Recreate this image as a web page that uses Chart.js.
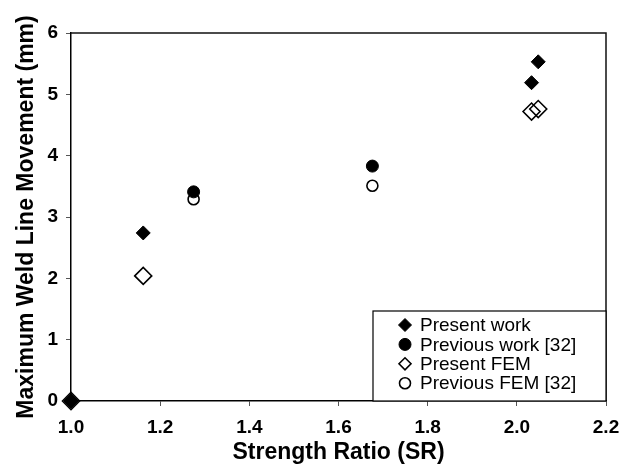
<!DOCTYPE html>
<html>
<head>
  <title>Weld Line Movement</title>
  <script src="https://cdn.jsdelivr.net/npm/chart.js"></script>
  <style>html, body { margin: 0; padding: 0; background: #fff; }</style>
</head>
<body>
  <canvas id="wlChart" width="620" height="470"></canvas>

  <script>
    // values
    const presentWorkSR  = [1.0, 1.162, 2.033, 2.048];
    const presentWorkMov = [0, 2.74, 5.19, 5.53];
    const prevWorkSR     = [1.275, 1.676];
    const prevWorkMov    = [3.41, 3.83];
    const presentFemSR   = [1.0, 1.162, 2.033, 2.048];
    const presentFemMov  = [0, 2.04, 4.72, 4.76];
    const prevFemSR      = [1.275, 1.676];
    const prevFemMov     = [3.29, 3.51];

    const seriesNames = ['Present work', 'Previous work [32]', 'Present FEM', 'Previous FEM [32]'];
    const xTicks = [1.0, 1.2, 1.4, 1.6, 1.8, 2.0, 2.2];
    const yTicks = [0, 1, 2, 3, 4, 5, 6];

    const FONT = "'Liberation Sans', Arial, sans-serif";

    function pts(xs, ys) { return xs.map((x, i) => ({ x: x, y: ys[i] })); }

    // box around plot + legend in lower right corner
    const framePlugin = {
      id: 'frame',
      afterDatasetsDraw(chart) {
        const { ctx, chartArea: a } = chart;
        ctx.save();
        ctx.strokeStyle = '#111';
        ctx.lineWidth = 1.5;
        ctx.beginPath();
        ctx.moveTo(a.left, a.top);
        ctx.lineTo(a.right, a.top);
        ctx.lineTo(a.right, a.bottom);
        ctx.stroke();

        // legend
        const lx = 373, ly = 311, lw = a.right - lx, lh = a.bottom - ly;
        ctx.fillStyle = '#fff';
        ctx.fillRect(lx, ly, lw, lh);
        ctx.lineWidth = 1.2;
        ctx.strokeStyle = '#000';
        ctx.strokeRect(lx, ly, lw, lh);
        ctx.font = '19px ' + FONT;
        ctx.textBaseline = 'middle';
        ctx.textAlign = 'left';
        chart.data.datasets.forEach((ds, i) => {
          const y = 325 + i * 19.4;
          ctx.fillStyle = ds.backgroundColor === 'transparent' ? 'rgba(0,0,0,0)' : ds.backgroundColor;
          ctx.strokeStyle = '#000';
          ctx.lineWidth = ds.borderWidth;
          Chart.helpers.drawPoint(ctx, {
            pointStyle: ds.pointStyle,
            radius: ds.legendRadius,
            rotation: 0,
            borderWidth: ds.borderWidth
          }, 405, y);
          ctx.fillStyle = '#000';
          ctx.fillText(ds.label, 420, y + 1);
        });
        ctx.restore();
      }
    };

    new Chart(document.getElementById('wlChart'), {
      type: 'scatter',
      data: {
        datasets: [
          { label: seriesNames[0], data: pts(presentWorkSR, presentWorkMov), pointStyle: 'rectRot',
            pointRadius: 7, backgroundColor: '#000', borderColor: '#000', borderWidth: 1, legendRadius: 6.5, clip: false },
          { label: seriesNames[1], data: pts(prevWorkSR, prevWorkMov), pointStyle: 'circle',
            pointRadius: 6, backgroundColor: '#000', borderColor: '#000', borderWidth: 1, legendRadius: 6, clip: false },
          { label: seriesNames[2], data: pts(presentFemSR, presentFemMov), pointStyle: 'rectRot',
            pointRadius: 8.5, backgroundColor: 'transparent', borderColor: '#000', borderWidth: 1.6, legendRadius: 6, clip: false },
          { label: seriesNames[3], data: pts(prevFemSR, prevFemMov), pointStyle: 'circle',
            pointRadius: 5.5, backgroundColor: 'transparent', borderColor: '#000', borderWidth: 1.6, legendRadius: 5.5, clip: false }
        ]
      },
      options: {
        responsive: false,
        animation: false,
        events: [],
        layout: { padding: { top: 33, right: 14, left: 0, bottom: 0 } },
        plugins: { legend: { display: false }, tooltip: { enabled: false } },
        scales: {
          x: {
            type: 'linear', min: 1.0, max: 2.2,
            afterBuildTicks: s => { s.ticks = xTicks.map(v => ({ value: v })); },
            afterFit: s => { s.height = 69; s.paddingLeft = 0; s.paddingRight = 0; },
            border: { display: true, color: '#000', width: 1.5 },
            grid: { drawOnChartArea: false, drawTicks: true, tickLength: 5, color: '#555', lineWidth: 1 },
            ticks: { color: '#000', padding: 10, font: { family: FONT, size: 19, weight: 'bold' },
                     callback: v => v.toFixed(1) },
            title: { display: true, text: 'Strength Ratio (SR)', color: '#000',
                     font: { family: FONT, size: 23, weight: 'bold' }, padding: { top: 0, bottom: 4 } }
          },
          y: {
            type: 'linear', min: 0, max: 6,
            afterBuildTicks: s => { s.ticks = yTicks.map(v => ({ value: v })); },
            afterFit: s => { s.width = 71; s.paddingTop = 0; s.paddingBottom = 0; },
            border: { display: true, color: '#000', width: 1.5 },
            grid: { drawOnChartArea: false, drawTicks: true, tickLength: 5, color: '#555', lineWidth: 1 },
            ticks: { color: '#000', padding: 8, font: { family: FONT, size: 19, weight: 'bold' } },
            title: { display: true, text: 'Maximum Weld Line Movement (mm)', color: '#000',
                     font: { family: FONT, size: 23, weight: 'bold' }, padding: { top: 13, bottom: 0 } }
          }
        }
      },
      plugins: [framePlugin]
    });
  </script>
</body>
</html>
